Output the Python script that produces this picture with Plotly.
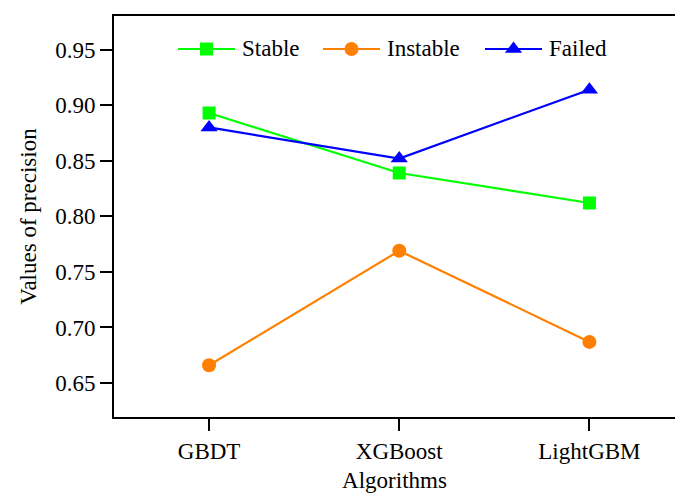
import plotly.graph_objects as go

algorithms = ["GBDT", "XGBoost", "LightGBM"]
stable = [0.893, 0.839, 0.812]
instable = [0.666, 0.769, 0.687]
failed = [0.880, 0.852, 0.914]
y_ticks = [0.65, 0.70, 0.75, 0.80, 0.85, 0.90, 0.95]

FONT = "Times New Roman"
FS = 23

series = [
    ("Stable", stable, "#00ff00", "square", 13),
    ("Instable", instable, "#ff8000", "circle", 14),
    ("Failed", failed, "#0000ff", "triangle-up", 15),
]

fig = go.Figure()
for name, vals, color, symbol, size in series:
    fig.add_trace(go.Scatter(
        x=algorithms, y=vals, name=name, mode="lines+markers",
        line=dict(color=color, width=2.2),
        marker=dict(color=color, symbol=symbol, size=size),
        showlegend=False,
    ))

# Legend row drawn on an overlay axis measured in pixels across the plot area
legend_left = [178, 323, 485]   # x where each legend line starts
legend_len = 57
legend_y = 49
for (name, _, color, symbol, size), x0 in zip(series, legend_left):
    fig.add_trace(go.Scatter(
        x=[x0, x0 + legend_len], y=[legend_y, legend_y], mode="lines",
        line=dict(color=color, width=2.2), xaxis="x2", yaxis="y2",
        showlegend=False, hoverinfo="skip",
    ))
    fig.add_trace(go.Scatter(
        x=[x0 + legend_len / 2], y=[legend_y], mode="markers",
        marker=dict(color=color, symbol=symbol, size=size), xaxis="x2", yaxis="y2",
        showlegend=False, hoverinfo="skip",
    ))
    fig.add_annotation(
        x=x0 + legend_len + 5, y=legend_y - 1, xref="x2", yref="y2",
        text=name, showarrow=False, xanchor="left", yanchor="middle",
        font=dict(family=FONT, size=FS, color="black"),
    )

fig.update_layout(
    width=675, height=493,
    margin=dict(l=114, r=0, t=16, b=76),
    plot_bgcolor="white", paper_bgcolor="white",
    font=dict(family=FONT, size=FS, color="black"),
    showlegend=False,
    xaxis=dict(
        type="category", range=[-0.5, 2.45],
        showline=True, linecolor="black", linewidth=2, mirror=True,
        ticks="outside", ticklen=12, tickwidth=1.5, tickcolor="black",
        showgrid=False, zeroline=False,
        tickfont=dict(family=FONT, size=FS),
        title=dict(text="Algorithms", standoff=10, font=dict(family=FONT, size=FS)),
    ),
    yaxis=dict(
        range=[0.6194, 0.9803], tickvals=y_ticks,
        ticktext=[f"{v:.2f}" for v in y_ticks],
        showline=True, linecolor="black", linewidth=2,
        ticks="outside", ticklen=12, tickwidth=2, tickcolor="black",
        showgrid=False, zeroline=False,
        tickfont=dict(family=FONT, size=FS),
        title=dict(text="Values of precision", standoff=12, font=dict(family=FONT, size=FS)),
    ),
    xaxis2=dict(overlaying="x", range=[114, 675], visible=False, fixedrange=True),
    yaxis2=dict(overlaying="y", range=[416.7, 16], visible=False, fixedrange=True),
)

fig.write_html("out.html")
